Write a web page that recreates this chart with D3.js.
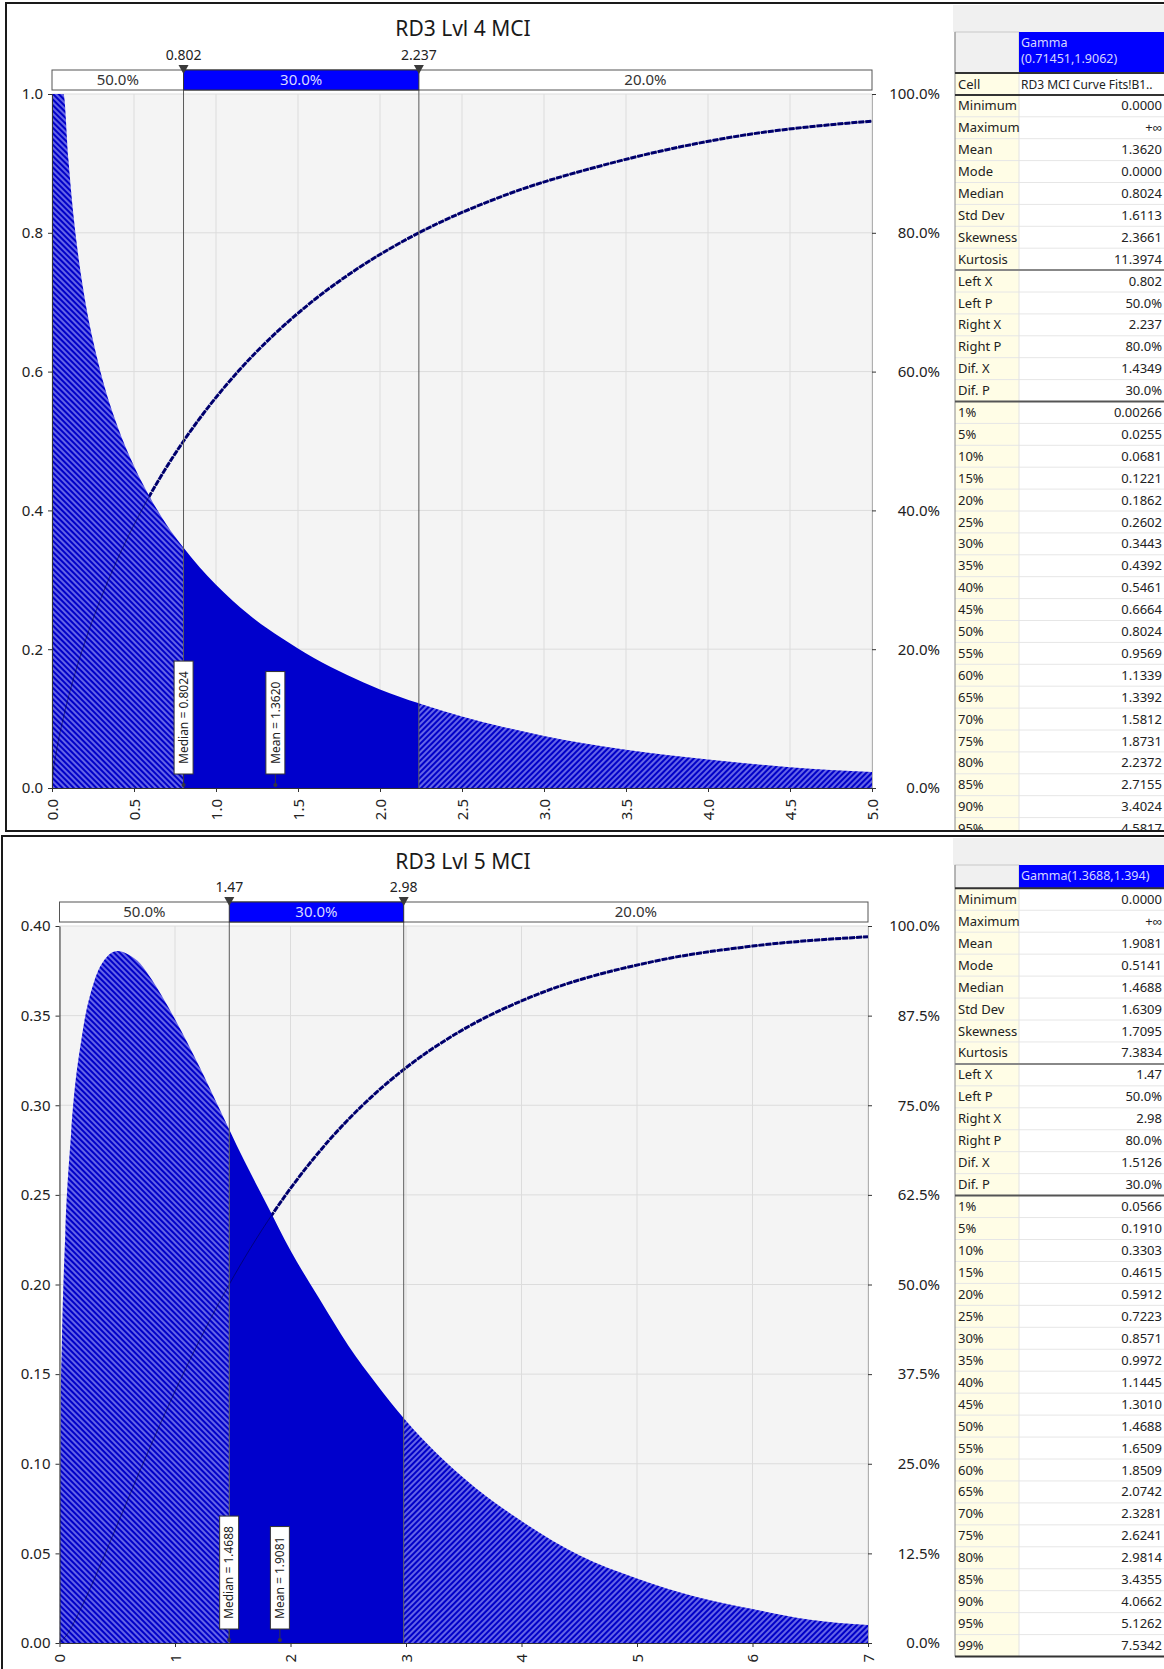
<!DOCTYPE html>
<html>
<head>
<meta charset="utf-8">
<script src="https://cdn.jsdelivr.net/npm/d3@7"></script>
<style>
  body { margin: 0; background: #fff; }
  svg text { font-family: "Noto Sans", sans-serif; }
</style>
</head>
<body>
<script>

// ---- top chart : RD3 Lvl 4 MCI ----
var topTitle = "RD3 Lvl 4 MCI";
var topPdfX = [0, 0.07, 0.1, 0.12, 0.15, 0.2, 0.25, 0.3, 0.4, 0.5, 0.6, 0.7, 0.8, 0.9, 1.0, 1.2, 1.4, 1.6, 1.8, 2.0, 2.25, 2.5, 2.75, 3.0, 3.5, 4.0, 4.5, 5.0];
var topPdfY = [1.0, 1.0, 0.906, 0.851, 0.786, 0.705, 0.645, 0.596, 0.521, 0.464, 0.418, 0.379, 0.347, 0.318, 0.293, 0.250, 0.216, 0.187, 0.163, 0.142, 0.121, 0.103, 0.088, 0.075, 0.055, 0.041, 0.030, 0.023];
var topCdfX = [0, 0.00266, 0.0255, 0.0681, 0.1221, 0.1862, 0.2602, 0.3443, 0.4392, 0.5461, 0.6664, 0.8024, 0.9569, 1.1339, 1.3392, 1.5812, 1.8731, 2.2372, 2.7155, 3.4024, 4.2, 5.0];
var topCdfP = [0, 0.01, 0.05, 0.10, 0.15, 0.20, 0.25, 0.30, 0.35, 0.40, 0.45, 0.50, 0.55, 0.60, 0.65, 0.70, 0.75, 0.80, 0.85, 0.90, 0.940, 0.961];
var topMarks = [0.802, 2.237];
var topMarkLabels = ["0.802", "2.237"];
var topBarLabels = ["50.0%", "30.0%", "20.0%"];
var topXTicks = [0, 0.5, 1.0, 1.5, 2.0, 2.5, 3.0, 3.5, 4.0, 4.5, 5.0];
var topYTicks = [0, 0.2, 0.4, 0.6, 0.8, 1.0];
var topRTicks = [0, 0.2, 0.4, 0.6, 0.8, 1.0];
var topStatLines = [0.8024, 1.3620];
var topStatNames = ["Median = 0.8024", "Mean = 1.3620"];

var topStatLabels = ["Cell", "Minimum", "Maximum", "Mean", "Mode", "Median", "Std Dev", "Skewness", "Kurtosis",
  "Left X", "Left P", "Right X", "Right P", "Dif. X", "Dif. P",
  "1%", "5%", "10%", "15%", "20%", "25%", "30%", "35%", "40%", "45%", "50%", "55%", "60%", "65%", "70%", "75%", "80%", "85%", "90%", "95%"];
var topStatValues = ["RD3 MCI Curve Fits!B1..", "0.0000", "+\u221e", "1.3620", "0.0000", "0.8024", "1.6113", "2.3661", "11.3974",
  "0.802", "50.0%", "2.237", "80.0%", "1.4349", "30.0%",
  "0.00266", "0.0255", "0.0681", "0.1221", "0.1862", "0.2602", "0.3443", "0.4392", "0.5461", "0.6664", "0.8024", "0.9569", "1.1339", "1.3392", "1.5812", "1.8731", "2.2372", "2.7155", "3.4024", "4.5817"];
var topHeader = ["Gamma", "(0.71451,1.9062)"];

// ---- bottom chart : RD3 Lvl 5 MCI ----
var botTitle = "RD3 Lvl 5 MCI";
var botPdfX = [0, 0.01, 0.02, 0.05, 0.1, 0.2, 0.3, 0.4, 0.5, 0.6, 0.7, 0.8, 1.0, 1.2, 1.4, 1.6, 1.8, 2.0, 2.25, 2.5, 2.75, 3.0, 3.5, 4.0, 4.5, 5.0, 5.5, 6.0, 6.5, 7.0];
var botPdfY = [0, 0.130, 0.166, 0.228, 0.284, 0.341, 0.369, 0.382, 0.386, 0.384, 0.379, 0.370, 0.348, 0.323, 0.296, 0.269, 0.244, 0.219, 0.192, 0.166, 0.144, 0.124, 0.092, 0.068, 0.049, 0.036, 0.026, 0.019, 0.013, 0.010];
var botCdfX = [0, 0.0566, 0.1910, 0.3303, 0.4615, 0.5912, 0.7223, 0.8571, 0.9972, 1.1445, 1.3010, 1.4688, 1.6509, 1.8509, 2.0742, 2.3281, 2.6241, 2.9814, 3.4355, 4.0662, 5.1262, 6.0, 7.0];
var botCdfP = [0, 0.01, 0.05, 0.10, 0.15, 0.20, 0.25, 0.30, 0.35, 0.40, 0.45, 0.50, 0.55, 0.60, 0.65, 0.70, 0.75, 0.80, 0.85, 0.90, 0.95, 0.972, 0.985];
var botMarks = [1.47, 2.98];
var botMarkLabels = ["1.47", "2.98"];
var botBarLabels = ["50.0%", "30.0%", "20.0%"];
var botXTicks = [0, 1, 2, 3, 4, 5, 6, 7];
var botYTicks = [0, 0.05, 0.10, 0.15, 0.20, 0.25, 0.30, 0.35, 0.40];
var botRTicks = [0, 0.125, 0.25, 0.375, 0.5, 0.625, 0.75, 0.875, 1.0];
var botStatLines = [1.4688, 1.9081];
var botStatNames = ["Median = 1.4688", "Mean = 1.9081"];

var botStatLabels = ["Minimum", "Maximum", "Mean", "Mode", "Median", "Std Dev", "Skewness", "Kurtosis",
  "Left X", "Left P", "Right X", "Right P", "Dif. X", "Dif. P",
  "1%", "5%", "10%", "15%", "20%", "25%", "30%", "35%", "40%", "45%", "50%", "55%", "60%", "65%", "70%", "75%", "80%", "85%", "90%", "95%", "99%"];
var botStatValues = ["0.0000", "+\u221e", "1.9081", "0.5141", "1.4688", "1.6309", "1.7095", "7.3834",
  "1.47", "50.0%", "2.98", "80.0%", "1.5126", "30.0%",
  "0.0566", "0.1910", "0.3303", "0.4615", "0.5912", "0.7223", "0.8571", "0.9972", "1.1445", "1.3010", "1.4688", "1.6509", "1.8509", "2.0742", "2.3281", "2.6241", "2.9814", "3.4355", "4.0662", "5.1262", "7.5342"];
var botHeader = ["Gamma(1.3688,1.394)"];

var W = 1164, H = 1669;

var svg = d3.select("body").append("svg")
    .attr("width", W)
    .attr("height", H);
var defs = svg.append("defs");

function hatch(id, angle) {
  var p = defs.append("pattern").attr("id", id)
      .attr("patternUnits", "userSpaceOnUse")
      .attr("width", 4).attr("height", 4)
      .attr("patternTransform", "rotate(" + angle + ")");
  p.append("rect").attr("width", 4).attr("height", 4).attr("fill", "#0000c8");
  p.append("line").attr("x1", 1).attr("y1", -1).attr("x2", 1).attr("y2", 5)
      .attr("stroke", "#b8b8ff").attr("stroke-width", 1.1);
}
hatch("hatchL", -45);
hatch("hatchR", 45);

// panel frames
svg.append("rect").attr("x", 6).attr("y", 3).attr("width", 1170).attr("height", 828)
    .attr("fill", "none").attr("stroke", "#1a1a1a").attr("stroke-width", 2);
svg.append("rect").attr("x", 2).attr("y", 836).attr("width", 1175).attr("height", 845)
    .attr("fill", "none").attr("stroke", "#1a1a1a").attr("stroke-width", 2);

function drawChart(c) {
  var g = svg.append("g");
  var x = d3.scaleLinear().domain([0, c.xMax]).range([c.left, c.right]);
  var y = d3.scaleLinear().domain([0, c.yMax]).range([c.bottom, c.top]);
  var yR = d3.scaleLinear().domain([0, 1]).range([c.bottom, c.top]);

  g.append("text").attr("x", 463).attr("y", c.titleY).attr("text-anchor", "middle")
      .style("font-size", "21px").attr("fill", "#1a1a1a").text(c.title);

  g.append("rect").attr("x", c.left).attr("y", c.top)
      .attr("width", c.right - c.left).attr("height", c.bottom - c.top)
      .attr("fill", "#f4f4f4");

  // grid
  g.append("g").selectAll("line").data(c.xTicks).join("line")
      .attr("x1", d => x(d)).attr("x2", d => x(d))
      .attr("y1", c.top).attr("y2", c.bottom)
      .attr("stroke", "#dcdcdc");
  g.append("g").selectAll("line").data(c.yTicks).join("line")
      .attr("x1", c.left).attr("x2", c.right)
      .attr("y1", d => y(d)).attr("y2", d => y(d))
      .attr("stroke", "#dcdcdc");

  defs.append("clipPath").attr("id", c.id + "plot").append("rect")
      .attr("x", c.left).attr("y", c.top)
      .attr("width", c.right - c.left).attr("height", c.bottom - c.top);

  var pdf = d3.zip(c.pdfX, c.pdfY);
  var cdf = d3.zip(c.cdfX, c.cdfP);
  var line = d3.line().x(d => x(d[0])).y(d => yR(d[1])).curve(d3.curveMonotoneX);
  var area = d3.area().x(d => x(d[0])).y0(y(0)).y1(d => y(d[1])).curve(d3.curveMonotoneX);

  var plot = g.append("g").attr("clip-path", "url(#" + c.id + "plot)");
  plot.append("path").datum(cdf).attr("d", line)
      .attr("fill", "none").attr("stroke", "#00007a")
      .attr("stroke-width", 3).attr("stroke-dasharray", "6,1");

  var bounds = [0, c.marks[0], c.marks[1], c.xMax];
  var fills = ["url(#hatchL)", "#0000cc", "url(#hatchR)"];
  fills.forEach(function(f, i) {
    var cid = c.id + "seg" + i;
    defs.append("clipPath").attr("id", cid).append("rect")
        .attr("x", x(bounds[i])).attr("y", c.top)
        .attr("width", x(bounds[i + 1]) - x(bounds[i])).attr("height", c.bottom - c.top);
    plot.append("g").attr("clip-path", "url(#" + cid + ")")
        .append("path").datum(pdf).attr("d", area).attr("fill", f);
  });
  // cdf seen faintly through the fill
  plot.append("path").datum(cdf).attr("d", line)
      .attr("fill", "none").attr("stroke", "#000033")
      .attr("stroke-opacity", 0.5).attr("stroke-width", 1);

  // marker lines
  g.append("g").selectAll("line").data(c.marks).join("line")
      .attr("x1", d => x(d)).attr("x2", d => x(d))
      .attr("y1", c.barTop).attr("y2", c.bottom)
      .attr("stroke", "#5a5a5a").attr("stroke-width", 1);

  // top bar
  g.append("rect").attr("x", c.left).attr("y", c.barTop)
      .attr("width", c.right - c.left).attr("height", c.barBot - c.barTop)
      .attr("fill", "#fff").attr("stroke", "#555");
  g.append("rect").attr("x", x(c.marks[0])).attr("y", c.barTop)
      .attr("width", x(c.marks[1]) - x(c.marks[0])).attr("height", c.barBot - c.barTop)
      .attr("fill", "#0000ff").attr("stroke", "#333");
  var segMid = [0, 1, 2].map(i => (x(bounds[i]) + x(bounds[i + 1])) / 2);
  g.append("g").selectAll("text").data(c.barLabels).join("text")
      .attr("x", (d, i) => segMid[i]).attr("y", c.barBot - 5)
      .attr("text-anchor", "middle").style("font-size", "15px")
      .attr("fill", (d, i) => i == 1 ? "#d8d8ff" : "#333")
      .text(d => d);

  // triangles and their values
  g.append("g").selectAll("path").data(c.marks).join("path")
      .attr("d", d => "M" + (x(d) - 5) + "," + (c.barTop - 5) + "L" + (x(d) + 5) + "," + (c.barTop - 5) + "L" + x(d) + "," + (c.barTop + 4) + "Z")
      .attr("fill", "#3a3a3a");
  g.append("g").selectAll("text").data(c.markLabels).join("text")
      .attr("x", (d, i) => x(c.marks[i])).attr("y", c.markY)
      .attr("text-anchor", "middle").style("font-size", "14px").attr("fill", "#222")
      .text(d => d);

  // median / mean flags
  c.statLines.forEach(function(v, i) {
    var fg = g.append("g").attr("transform", "translate(" + x(v) + "," + (c.bottom - 14) + ")");
    fg.append("line").attr("x1", 0).attr("x2", 0).attr("y1", 0).attr("y2", 11)
        .attr("stroke", "#334");
    fg.append("circle").attr("cx", 0).attr("cy", 11).attr("r", 2).attr("fill", "#334");
    var box = fg.append("rect").attr("x", -9.5).attr("width", 19)
        .attr("fill", "#fff").attr("stroke", "#333");
    var t = fg.append("text").attr("transform", "rotate(-90)")
        .attr("x", 10).attr("y", 0).attr("dy", "0.36em")
        .style("font-size", "12px").attr("fill", "#222")
        .text(c.statNames[i]);
    var len = t.node().getComputedTextLength();
    box.attr("y", -(len + 20)).attr("height", len + 20);
  });

  // axes
  var ax = g.append("g").attr("transform", "translate(0," + c.bottom + ")")
      .call(d3.axisBottom(x).tickValues(c.xTicks).tickFormat(c.xFmt).tickSize(4).tickSizeOuter(0));
  ax.selectAll("text")
      .attr("transform", "rotate(-90)")
      .attr("x", -11).attr("y", 0).attr("dy", "0.36em")
      .attr("text-anchor", "end");

  var ay = g.append("g").attr("transform", "translate(" + c.left + ",0)")
      .call(d3.axisLeft(y).tickValues(c.yTicks).tickFormat(c.yFmt).tickSize(4).tickPadding(5).tickSizeOuter(0));

  var ar = g.append("g").attr("transform", "translate(" + c.right + ",0)")
      .call(d3.axisRight(yR).tickValues(c.rTicks).tickFormat(d3.format(".1%")).tickSize(4).tickSizeOuter(0));
  ar.selectAll("text").attr("text-anchor", "end").attr("x", 940 - c.right);
  ar.select(".domain").attr("stroke", "#b0b0b0");

  [ax, ay, ar].forEach(function(a) {
    a.selectAll("text").style("font-size", "15px").attr("fill", "#222")
        .style("font-family", "'Noto Sans', sans-serif");
    a.selectAll(".tick line").attr("stroke", "#333");
  });
  ax.select(".domain").attr("stroke", "#333");
  ay.select(".domain").attr("stroke", "#333");
}

drawChart({
  id: "top", title: topTitle, titleY: 36, markY: 60, barTop: 70, barBot: 90,
  left: 52, right: 872, top: 94, bottom: 788, xMax: 5, yMax: 1.0,
  pdfX: topPdfX, pdfY: topPdfY, cdfX: topCdfX, cdfP: topCdfP,
  marks: topMarks, markLabels: topMarkLabels, barLabels: topBarLabels,
  xTicks: topXTicks, yTicks: topYTicks, rTicks: topRTicks,
  xFmt: d3.format(".1f"), yFmt: d3.format(".1f"),
  statLines: topStatLines, statNames: topStatNames
});

drawChart({
  id: "bot", title: botTitle, titleY: 869, markY: 892, barTop: 902, barBot: 922,
  left: 59.5, right: 868, top: 926, bottom: 1643, xMax: 7, yMax: 0.40,
  pdfX: botPdfX, pdfY: botPdfY, cdfX: botCdfX, cdfP: botCdfP,
  marks: botMarks, markLabels: botMarkLabels, barLabels: botBarLabels,
  xTicks: botXTicks, yTicks: botYTicks, rTicks: botRTicks,
  xFmt: d3.format("d"), yFmt: d3.format(".2f"),
  statLines: botStatLines, statNames: botStatNames
});

// statistics tables
function drawTable(t) {
  defs.append("clipPath").attr("id", t.id + "clip").append("rect")
      .attr("x", 950).attr("y", t.stripTop).attr("width", W - 950).attr("height", t.clipH);
  var g = svg.append("g").attr("clip-path", "url(#" + t.id + "clip)");
  var RH = t.rowH;
  var nRows = t.labels.length;
  var endY = t.rowTop + nRows * RH;

  g.append("rect").attr("x", 953).attr("y", t.stripTop).attr("width", W - 953)
      .attr("height", t.headTop - t.stripTop).attr("fill", "#f0f0f0");
  g.append("rect").attr("x", 955).attr("y", t.headTop).attr("width", 64)
      .attr("height", t.rowTop - t.headTop).attr("fill", "#f0f0f0").attr("stroke", "#c8c8c8");
  g.append("rect").attr("x", 1019).attr("y", t.headTop).attr("width", W - 1019)
      .attr("height", t.rowTop - t.headTop).attr("fill", "#0000ff");
  g.append("g").selectAll("text").data(t.header).join("text")
      .attr("x", 1021).attr("y", (d, i) => t.headTop + 15 + i * 16)
      .style("font-size", "12.5px").attr("fill", "#d6d6ff").text(d => d);

  g.append("rect").attr("x", 955).attr("y", t.rowTop).attr("width", 64)
      .attr("height", endY - t.rowTop).attr("fill", "#fffde6");
  g.append("rect").attr("x", 1019).attr("y", t.rowTop).attr("width", W - 1019)
      .attr("height", endY - t.rowTop).attr("fill", "#fff");

  g.append("g").selectAll("line").data(d3.range(1, nRows)).join("line")
      .attr("x1", 955).attr("x2", W).attr("y1", d => t.rowTop + d * RH).attr("y2", d => t.rowTop + d * RH)
      .attr("stroke", "#e6e6e6");
  g.append("line").attr("x1", 1019).attr("x2", 1019).attr("y1", t.rowTop).attr("y2", endY)
      .attr("stroke", "#e2e2e2");
  g.append("line").attr("x1", 955).attr("x2", 955).attr("y1", t.headTop).attr("y2", endY)
      .attr("stroke", "#8a8a8a");

  g.append("g").selectAll("line").data(t.seps).join("line")
      .attr("x1", 955).attr("x2", W)
      .attr("y1", d => t.rowTop + d[0] * RH).attr("y2", d => t.rowTop + d[0] * RH)
      .attr("stroke", d => d[1]).attr("stroke-width", 2);

  g.append("g").selectAll("text").data(t.labels).join("text")
      .attr("x", 958).attr("y", (d, i) => t.rowTop + i * RH + 15.5)
      .style("font-size", "13px").attr("fill", "#222").text(d => d);
  g.append("g").selectAll("text").data(t.values).join("text")
      .attr("x", (d, i) => t.leftVal.indexOf(i) >= 0 ? 1021 : t.valX)
      .attr("text-anchor", (d, i) => t.leftVal.indexOf(i) >= 0 ? "start" : "end")
      .attr("y", (d, i) => t.rowTop + i * RH + 15.5)
      .style("font-size", (d, i) => t.leftVal.indexOf(i) >= 0 ? "12px" : "13px")
      .attr("fill", "#222").text(d => d);
}

drawTable({
  id: "ttab", stripTop: 5, headTop: 32, rowTop: 73, rowH: 21.9, clipH: 825,
  labels: topStatLabels, values: topStatValues, header: topHeader,
  valX: 1162, leftVal: [0],
  seps: [[0, "#333"], [1, "#333"], [9, "#888"], [15, "#555"]]
});

drawTable({
  id: "btab", stripTop: 838, headTop: 865, rowTop: 888.3, rowH: 21.95, clipH: 830,
  labels: botStatLabels, values: botStatValues, header: botHeader,
  valX: 1162, leftVal: [],
  seps: [[0, "#333"], [8, "#888"], [14, "#555"], [35, "#333"]]
});

</script>
</body>
</html>
